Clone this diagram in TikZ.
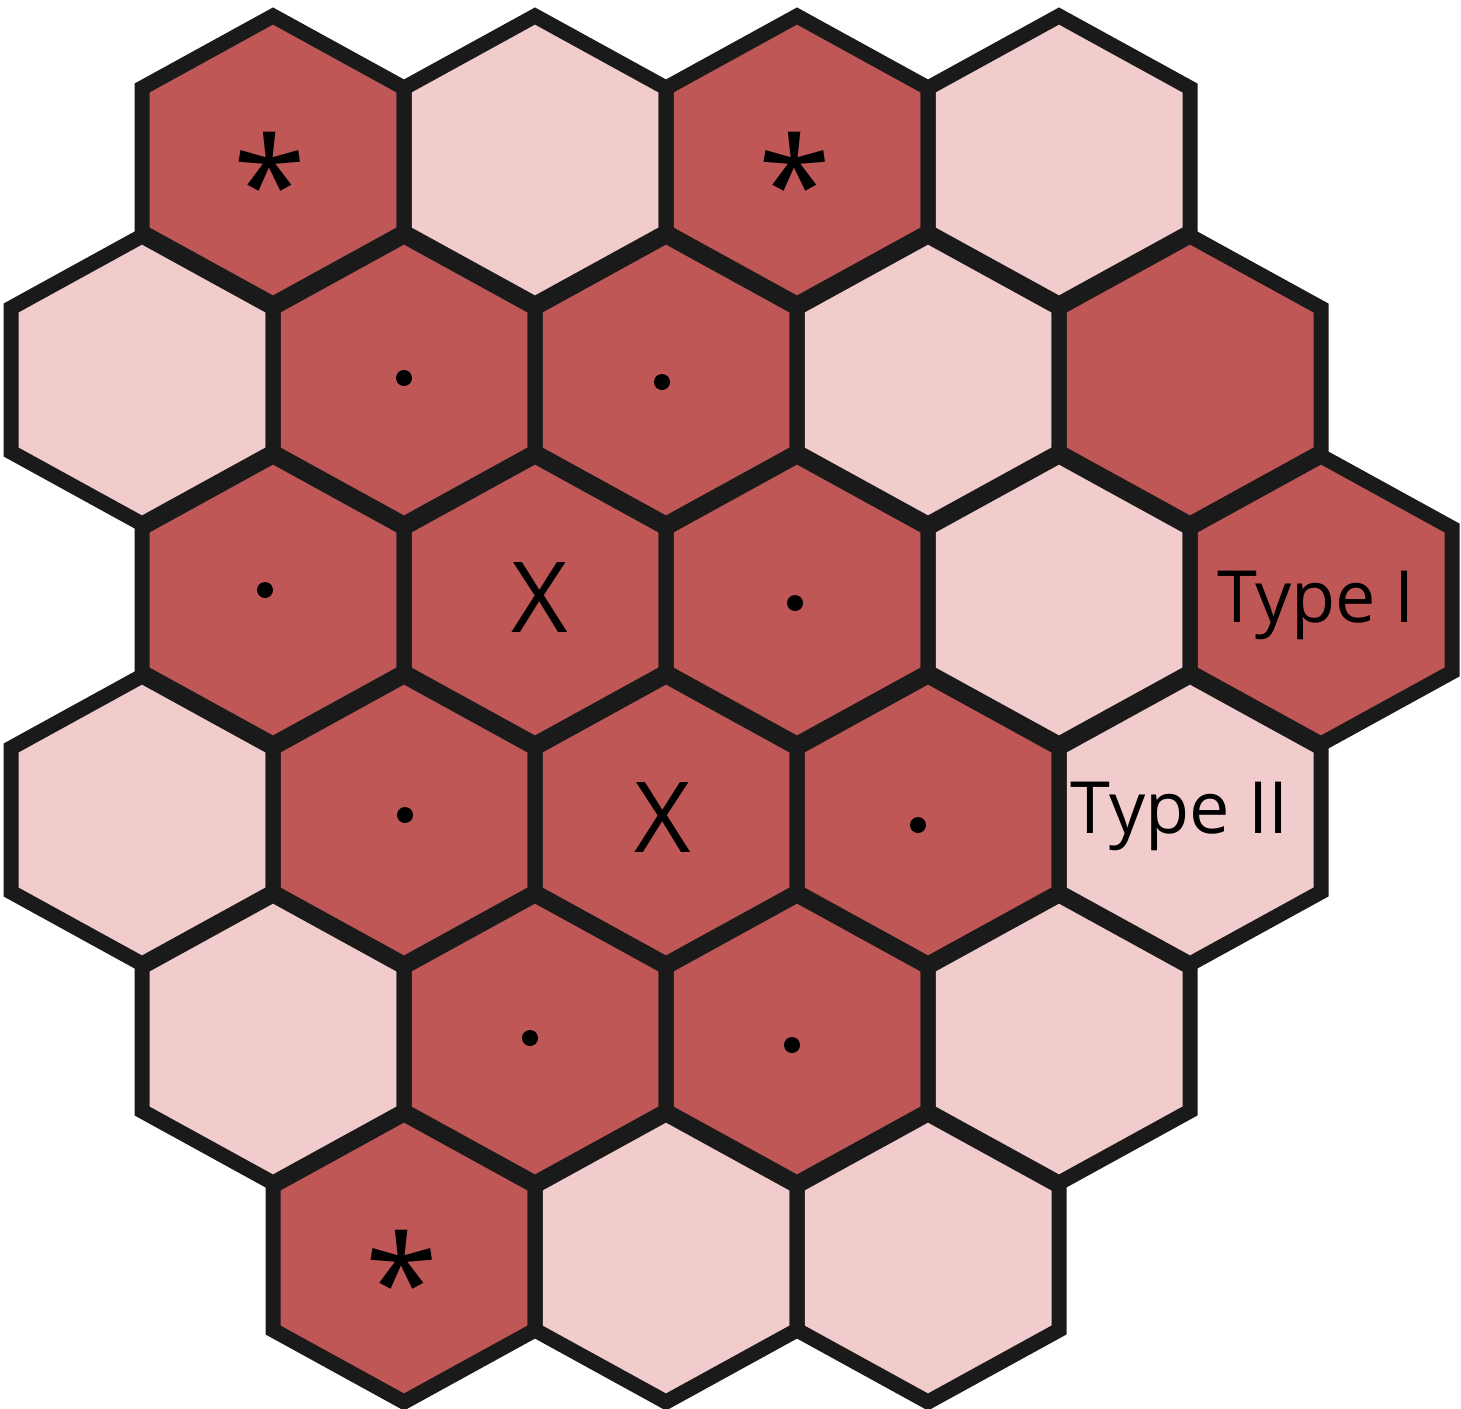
\documentclass[tikz,border=0pt]{standalone}
\usepackage{fontspec}
\setmainfont{Open Sans}
\usetikzlibrary{positioning}
\definecolor{cellred}{RGB}{192,87,87}
\definecolor{cellpink}{RGB}{242,204,204}
\definecolor{cellline}{RGB}{26,26,26}
\tikzset{cell dark/.style={fill=cellred}}
\tikzset{cell light/.style={fill=cellpink}}
\tikzset{cell edge/.style={draw=cellline, line width=7.5pt, line join=miter}}
\tikzset{cell dot/.style={circle, fill=black, minimum size=8pt, inner sep=0pt}}
\tikzset{cell star/.style={font=\fontsize{66}{66}\selectfont, inner sep=0pt, yshift=-11pt}}
\tikzset{cell cross/.style={font=\fontsize{49}{49}\selectfont, inner sep=0pt}}
\tikzset{cell type/.style={font=\fontsize{36}{36}\selectfont, inner sep=0pt}}
% one hexagon round (x,y), pixel units
\newcommand{\hexcell}[2]{(#1,#2-144) -- (#1+131,#2-72) -- (#1+131,#2+72) -- (#1,#2+144) -- (#1-131,#2+72) -- (#1-131,#2-72) -- cycle}

\begin{document}
\begin{tikzpicture}[x=0.5pt,y=-0.5pt]
		\useasboundingbox (0,0) rectangle (1461,1408);

		% fills first, outlines on top
		\foreach \cx/\cy/\kind in {273/160/dark, 535/160/light, 797/160/dark, 1059/160/light,
			142/380/light, 404/380/dark, 666/380/dark, 928/380/light, 1190/380/dark,
			273/600/dark, 535/600/dark, 797/600/dark, 1059/600/light, 1321/600/dark,
			142/820/light, 404/820/dark, 666/820/dark, 928/820/dark, 1190/820/light,
			273/1039/light, 535/1039/dark, 797/1039/dark, 1059/1039/light,
			404/1258/dark, 666/1258/light, 928/1258/light}
			\fill[cell \kind] \hexcell{\cx}{\cy};
		\foreach \cx/\cy in {273/160, 535/160, 797/160, 1059/160,
			142/380, 404/380, 666/380, 928/380, 1190/380,
			273/600, 535/600, 797/600, 1059/600, 1321/600,
			142/820, 404/820, 666/820, 928/820, 1190/820,
			273/1039, 535/1039, 797/1039, 1059/1039,
			404/1258, 666/1258, 928/1258}
			\draw[cell edge] \hexcell{\cx}{\cy};

		\node[cell star] (star1) at (270,160) {*};
		\node[cell star] (star2) at (795,160) {*};
		\node[cell star] (star3) at (402,1258) {*};

		\foreach \cx/\cy [count=\i] in {404/378, 662/382, 265/590, 795/603, 405/815, 918/825, 530/1038, 792/1045}
			\node[cell dot] (dot\i) at (\cx,\cy) {};

		\node[cell cross] (cross1) at (540,598) {X};
		\node[cell cross] (cross2) at (663,818) {X};

		\node[cell type] (typeI) at (1316,605) {Type I};
		\node[cell type] (typeII) at (1180,816) {Type II};
	\end{tikzpicture}
\end{document}
